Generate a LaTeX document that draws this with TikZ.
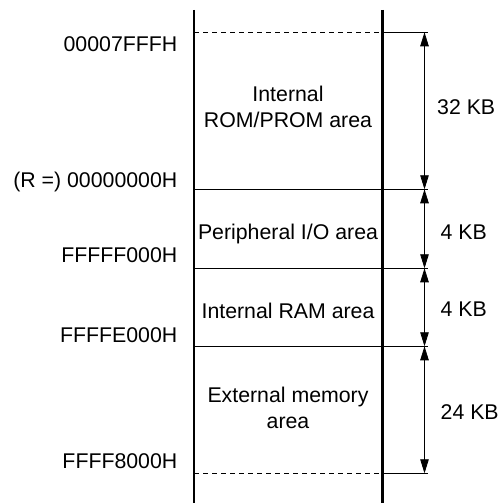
\documentclass[tikz,border=0pt]{standalone}
\usepackage{fontspec}
\setmainfont{Liberation Sans}
\usetikzlibrary{arrows.meta}
\begin{document}
\begin{tikzpicture}[x=1pt,y=-1pt,
  lbl/.style={inner sep=0pt, font=\fontsize{21.3}{25.6}\selectfont},
  addr/.style={lbl, anchor=base east},
  area/.style={lbl, align=center, anchor=base},
  size/.style={lbl, anchor=base west},
  wall/.style={line width=2.3pt},
  bound/.style={line width=0.9pt},
  open/.style={line width=0.9pt, dash pattern=on 5pt off 4pt},
  dim/.style={line width=0.8pt,
    {Triangle[length=14pt,width=8.5pt]}-{Triangle[length=14pt,width=8.5pt]}}]
\useasboundingbox (0,0) rectangle (499,503);

% column walls
\coordinate (wlt) at (194,10);  \coordinate (wlb) at (194,503);
\coordinate (wrt) at (382.5,10); \coordinate (wrb) at (382.5,503);
\draw[wall] (wlt) -- (wlb);
\draw[wall] (wrt) -- (wrb);

% area boundaries: left end, right wall, dimension end
\foreach \n/\y in {a/32.3,b/189.3,c/268.3,d/346.3,e/473.3}{
  \coordinate (\n l) at (194,\y);
  \coordinate (\n r) at (382.5,\y);
  \coordinate (\n d) at (427.5,\y);
  \coordinate (\n m) at (424.5,\y);
}
\draw[open] (al) -- (ar);
\draw[bound] (ar) -- (ad);
\draw[bound] (bl) -- (bd);
\draw[bound] (cl) -- (cd);
\draw[bound] (dl) -- (dd);
\draw[open] (el) -- (er);
\draw[bound] (er) -- (ed);

% size dimensions
\draw[dim] (am) -- (bm);
\draw[dim] (bm) -- (cm);
\draw[dim] (cm) -- (dm);
\draw[dim] (dm) -- (em);

% addresses
\node[addr] (t1) at (177.5,51.7)  {00007FFFH};
\node[addr] (t2) at (177.5,187.3) {(R =) 00000000H};
\node[addr] (t3) at (177.5,262.5) {FFFFF000H};
\node[addr] (t4) at (177.5,342)   {FFFFE000H};
\node[addr] (t5) at (177.5,468.5) {FFFF8000H};

% area names (base anchor sits on the last line)
\node[area] (rom) at (288,127.3) {Internal\\ROM/PROM area};
\node[area] (pio) at (288,239.3) {Peripheral I/O area};
\node[area] (ram) at (288,318.3) {Internal RAM area};
\node[area] (ext) at (288,428.3) {External memory\\area};

% sizes
\node[size] (s1) at (437,114)   {32 KB};
\node[size] (s2) at (440.5,239.3) {4 KB};
\node[size] (s3) at (440.5,316.7) {4 KB};
\node[size] (s4) at (440.5,419.3) {24 KB};
\end{tikzpicture}
\end{document}
